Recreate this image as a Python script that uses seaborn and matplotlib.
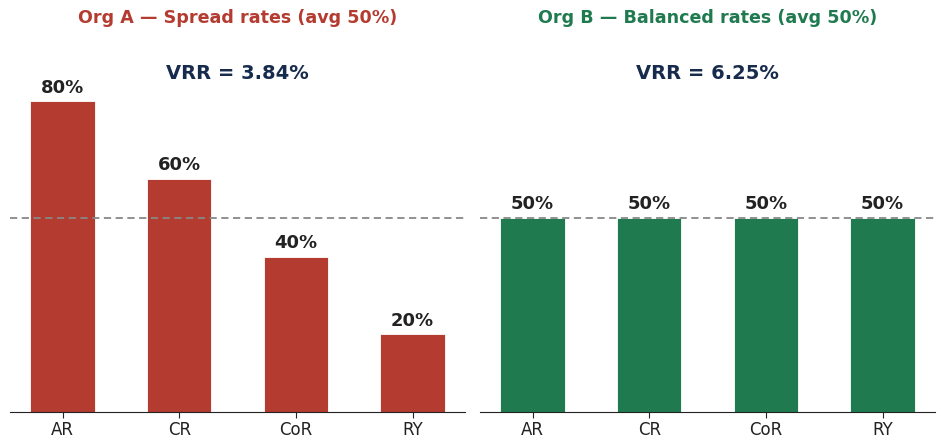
import matplotlib
matplotlib.use("Agg")
import matplotlib.pyplot as plt
import pandas as pd
import seaborn as sns

CATEGORIES = ["AR", "CR", "CoR", "RY"]
ORG_A_RATES = [80, 60, 40, 20]
ORG_B_RATES = [50, 50, 50, 50]
AVG_RATE = 50
VRR_A = "VRR = 3.84%"
VRR_B = "VRR = 6.25%"
TITLE_A = "Org A — Spread rates (avg 50%)"
TITLE_B = "Org B — Balanced rates (avg 50%)"

RED = "#b33b30"
GREEN = "#207a4f"
NAVY = "#172b4d"

sns.set_style("white")
plt.rcParams['font.family'] = ['DejaVu Sans']

fig = plt.figure(figsize=(9.45, 4.48), dpi=100)
ax_a = fig.add_axes([0.0106, 0.08, 0.4815, 0.846])
ax_b = fig.add_axes([0.508, 0.08, 0.4815, 0.846])

panels = [
    (ax_a, ORG_A_RATES, RED, TITLE_A, VRR_A),
    (ax_b, ORG_B_RATES, GREEN, TITLE_B, VRR_B),
]

for ax, rates, color, title, vrr in panels:
    df = pd.DataFrame({"cat": CATEGORIES, "rate": rates})
    sns.barplot(data=df, x="cat", y="rate", color=color, width=0.55,
                edgecolor="white", linewidth=0.6, saturation=1, ax=ax)
    ax.axhline(AVG_RATE, color="#888888", linestyle=(0, (4, 2.5)),
               linewidth=1.3, zorder=5)
    for i, r in enumerate(rates):
        ax.text(i, r + 1.2, f"{r}%", ha="center", va="bottom",
                fontsize=13, fontweight="bold", color="#222222")
    ax.text(0.5, 0.894, vrr, transform=ax.transAxes, ha="center",
            va="center", fontsize=14, fontweight="bold", color=NAVY)
    ax.set_title(title, color=color, fontsize=12.6, fontweight="bold", pad=7)
    ax.set_ylim(0, 97.5)
    ax.set_xlim(-0.45, 3.45)
    ax.set_xlabel("")
    ax.set_ylabel("")
    ax.set_yticks([])
    for s in ["top", "right", "left"]:
        ax.spines[s].set_visible(False)
    ax.spines["bottom"].set_color("#222222")
    ax.tick_params(axis="x", bottom=True, length=4, labelsize=12,
                   colors="#222222", pad=2.5)

fig.savefig("out.png", dpi=100)
